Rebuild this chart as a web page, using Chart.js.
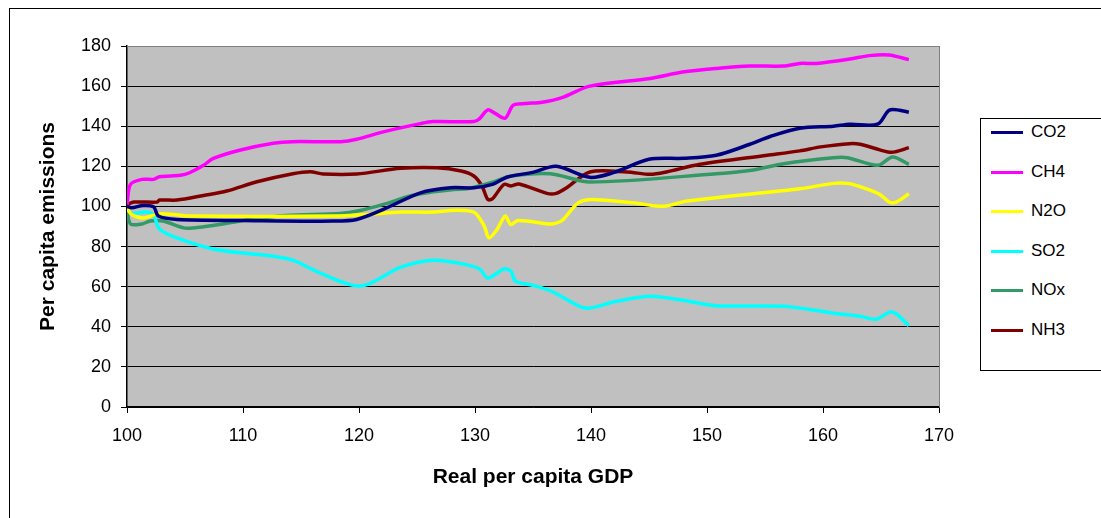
<!DOCTYPE html>
<html><head><meta charset="utf-8">
<script src="https://cdn.jsdelivr.net/npm/chart.js@4/dist/chart.umd.min.js"></script>
<style>
body{margin:0;background:#fff;font-family:"Liberation Sans",Arial,sans-serif;}
#wrap{position:relative;width:1101px;height:518px;overflow:hidden;}
#frame{position:absolute;left:9px;top:8px;width:1200px;height:600px;border:1px solid #000;box-sizing:border-box;}
canvas{position:absolute;left:0;top:0;}
#legend{position:absolute;left:980px;top:118px;width:140px;height:253px;border:1px solid #000;background:#fff;box-sizing:border-box;}
.item{position:absolute;left:10px;font-size:17px;height:20px;line-height:20px;}
.item span{display:inline-block;width:32px;height:3px;vertical-align:middle;margin-right:8px;}
</style></head><body>
<div id="wrap"><div id="frame"></div><canvas id="c" width="1101" height="518"></canvas><div id="legend"></div></div>
<script>
const seriesNames=["CO2","CH4","N2O","SO2","NOx","NH3"];
const seriesColors=["#000080","#FF00FF","#FFFF00","#00FFFF","#339966","#800000"];
const co2=[[100,100],[100.4,99.3],[101.4,100.5],[102.3,99.8],[102.7,95.2],[104.3,93.5],[110,93],[117.8,92.7],[119.8,93.5],[122.1,98.5],[125.3,106.8],[127.9,109.3],[129.9,109.3],[131.5,111],[132.8,114.7],[135,117],[137,120],[139.9,114.5],[142,117],[145,123.5],[148,124],[150.8,125.5],[153.7,131],[155.5,135],[158,139],[160.9,140],[162.3,141],[164.7,141],[165.7,148],[166.6,148],[167.4,147]];
const ch4=[[100,101],[100.3,111],[101.3,113.5],[102.3,113.5],[102.8,114.8],[104.6,115.5],[105.4,116.8],[106.6,120.5],[107.4,123.8],[109.7,128],[112.6,131.5],[114.3,132.3],[118.4,132.3],[119.8,133.5],[122.1,137.2],[125.3,141.3],[126.4,142.3],[129.9,142.3],[130.4,143.8],[131.1,148.2],[131.7,146.5],[132.6,144],[133.3,150.5],[134.4,151.3],[135.8,152],[137.5,154.3],[139.9,160],[145.1,163.8],[147.9,167],[150.8,168.8],[153.7,170],[156.6,170],[158,171.3],[159.4,171.3],[162.3,173.5],[164,175.2],[165.7,175.5],[167.4,173.2]];
const n2o=[[100,99.3],[100.4,96],[101.4,94.3],[102.7,96.3],[104,96],[105.4,95.2],[117.8,95.2],[120.7,96],[123.6,97.2],[126.4,97.2],[127.9,98],[129,98],[130,96.8],[130.8,90.2],[131.2,84.3],[131.9,88.5],[132.6,95.2],[133.1,91],[133.7,93],[136.3,91.3],[136.7,91.3],[137.5,93],[138.9,101.8],[140.1,103.5],[143.6,101.8],[145.6,100.2],[146.5,100.2],[148.3,102.7],[158,108.8],[160.9,111.5],[162.1,111.5],[163.5,109.3],[164.9,106],[165.7,102.2],[166.3,102.2],[167.4,106.3]];
const so2=[[100,98.5],[100.4,96.5],[101.7,97.2],[102.3,95.5],[102.8,88.8],[104.3,84.3],[107.4,78.8],[110,76.8],[112.6,75.2],[114.3,73.2],[116.3,67.7],[119.2,61],[120.7,61],[123.6,69.7],[126.4,73.2],[128.8,71.5],[130.4,68.8],[131.1,64.3],[132.5,68.8],[133.1,67.7],[133.5,62.7],[135.1,60.5],[136.6,57.7],[139,50.2],[139.9,49.3],[142.2,52.7],[145.1,55.2],[147.9,53.2],[150.8,50.5],[156.6,50.2],[160.9,46.8],[163.2,45.2],[164.6,43.8],[165.7,47.2],[166.3,46.5],[167.4,40.5]];
const nox=[[100,98.5],[100.3,91.3],[101.3,91.3],[102,92.7],[103.1,92.7],[104.9,89.3],[105.7,89.3],[107.4,90.5],[110.6,93.5],[113.7,95.5],[118.4,96.5],[120.1,98],[122.1,101],[124.4,105.2],[126.4,107.3],[128.2,108.5],[129.3,108.8],[131.6,112.2],[133.1,115.2],[136.5,116.3],[139.9,112.2],[150.8,116.3],[154,118.2],[156.6,121.3],[160.9,124.3],[162.1,124.3],[164.7,120.5],[166,124.7],[167.4,121]];
const nh3=[[100,101],[100.6,102.2],[102.6,102.2],[102.8,103.2],[104.3,103.2],[106.6,105.5],[108.6,107.7],[111.2,112.3],[114.3,116.3],[115.8,117.3],[116.9,116.2],[119.8,116.2],[123.6,119],[126.7,119.3],[128.8,117.7],[129.9,115.2],[130.6,110.2],[131.1,103.5],[131.5,103.8],[132.5,111],[133.1,110.2],[133.8,111.2],[136.2,106.5],[137,106.5],[137.9,109.3],[139.9,117.2],[143.1,117.2],[145.1,116],[146.5,117.2],[149.4,121],[155.2,125.5],[158,127.7],[159.8,129.7],[162.3,131.3],[163.2,131],[164.9,128.2],[165.6,127.2],[166.2,127.2],[167.4,129.3]];
const allData=[co2,ch4,n2o,so2,nox,nh3];
const xTicks=[100,110,120,130,140,150,160,170];
const yTicks=[0,20,40,60,80,100,120,140,160,180];

const leg=document.getElementById('legend');
seriesNames.forEach((n,i)=>{const d=document.createElement('div');d.className='item';d.style.top=(3+i*39.5)+'px';
d.innerHTML='<span style="background:'+seriesColors[i]+'"></span>'+n;leg.appendChild(d);});

const bg={id:'bg',beforeDraw(c){const a=c.chartArea,x=c.ctx;x.save();x.fillStyle='#C0C0C0';x.fillRect(a.left,a.top,a.right-a.left,a.bottom-a.top);x.restore();},
afterDraw(c){const a=c.chartArea,x=c.ctx;x.save();x.strokeStyle='#808080';x.lineWidth=1;x.beginPath();x.moveTo(a.right+0.5,a.top);x.lineTo(a.right+0.5,a.bottom);x.moveTo(a.left,a.top+0.5);x.lineTo(a.right,a.top+0.5);x.stroke();x.restore();}};
const font={family:'"Liberation Sans",Arial,sans-serif',size:18};
const tfont={family:font.family,size:21,weight:'bold'};
new Chart(document.getElementById('c'),{type:'scatter',
data:{datasets:allData.map((d,i)=>({label:seriesNames[i],data:d.map(p=>({x:p[0],y:p[1]})),showLine:true,borderColor:seriesColors[i],borderWidth:3.5,pointRadius:0,tension:0.3,fill:false}))},
options:{responsive:false,animation:false,layout:{padding:{top:46,right:162,left:32,bottom:24}},
plugins:{legend:{display:false},tooltip:{enabled:false}},
scales:{x:{type:'linear',min:100,max:170,afterBuildTicks(s){s.ticks=xTicks.map(v=>({value:v}));},
afterFit(s){s.height=87;},
grid:{drawOnChartArea:false,color:'#000',tickLength:6},border:{color:'#000',width:1.5},
ticks:{color:'#000',font:font,padding:12,maxRotation:0},
title:{display:true,text:'Real per capita GDP',color:'#000',font:tfont,padding:{top:0}}},
y:{min:0,max:180,afterBuildTicks(s){s.ticks=yTicks.map(v=>({value:v}));},afterFit(s){s.width=95;},
grid:{color:'#000',tickLength:6},border:{color:'#000',width:1.5},
ticks:{color:'#000',font:font,padding:10},
title:{display:true,text:'Per capita emissions',color:'#000',font:tfont,padding:{bottom:8}}}}},
plugins:[bg]});
</script></body></html>
